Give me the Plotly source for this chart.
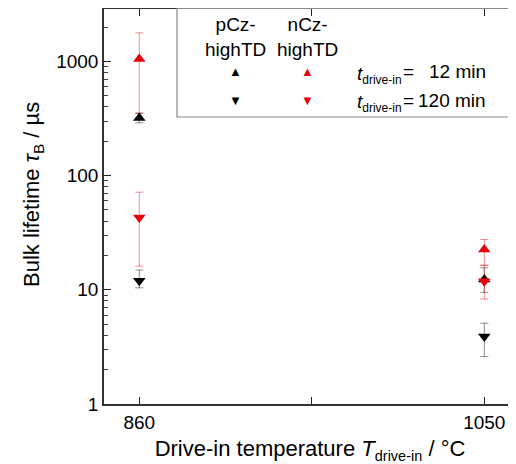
import plotly.graph_objects as go

# ---- data ----
temps = [860, 1050]
p_up = [320, 12.3]          # pCz-highTD, 12 min
p_up_hi = [350, 15.6]
p_up_lo = [290, 9.5]
n_up = [1050, 22.5]         # nCz-highTD, 12 min
n_up_hi = [1780, 27.6]
n_up_lo = [355, 16.4]
p_dn = [12.0, 3.9]          # pCz-highTD, 120 min
p_dn_hi = [14.9, 5.1]
p_dn_lo = [10.4, 2.6]
n_dn = [43.0, 11.9]         # nCz-highTD, 120 min
n_dn_hi = [71.6, 16.4]
n_dn_lo = [16.1, 8.3]

x_ticks = [860, 955, 1050]
x_ticktext = ["860", "", "1050"]
y_ticks = [1, 10, 100, 1000]
y_ticktext = ["1", "10", "100", "1000"]
y_minor = [m * 10 ** d for d in range(4) for m in range(2, 10)]

FONT = "Arial, Liberation Sans, sans-serif"
RED = "#e8000b"

def trace(y, hi, lo, symbol, color, ecolor):
    return go.Scatter(
        x=temps, y=y, mode="markers",
        marker=dict(symbol=symbol, size=11, color=color),
        error_y=dict(type="data", symmetric=False,
                     array=[h - v for h, v in zip(hi, y)],
                     arrayminus=[v - l for l, v in zip(lo, y)],
                     color=ecolor, thickness=1, width=4),
        showlegend=False)

fig = go.Figure()
fig.add_trace(trace(n_up, n_up_hi, n_up_lo, "triangle-up", RED, "rgba(232,0,11,0.45)"))
fig.add_trace(trace(p_up, p_up_hi, p_up_lo, "triangle-up", "black", "rgba(0,0,0,0.45)"))
fig.add_trace(trace(p_dn, p_dn_hi, p_dn_lo, "triangle-down", "black", "rgba(0,0,0,0.45)"))
fig.add_trace(trace(n_dn, n_dn_hi, n_dn_lo, "triangle-down", RED, "rgba(232,0,11,0.45)"))
# invisible trace for the right-hand tick axis
fig.add_trace(go.Scatter(x=[860], y=[10], yaxis="y2", mode="markers",
                         marker=dict(opacity=0), showlegend=False, hoverinfo="skip"))

OFF = 8  # page body margin
W, H = 516 - OFF, 464 - OFF
L, R, T, B = 96, 0, 1, 60
yr = [0, 3.459]

def px(sx):
    return (sx - OFF - L) / (W - L - R)

def py(sy):
    return (H - B - (sy - OFF)) / (H - T - B)

SUB = "<sub><span style='font-size:12px'>drive-in</span></sub>"
SUBX = "<sub><span style='font-size:14.5px'>drive-in</span></sub>"

tick_common = dict(ticks="inside", ticklen=7, tickwidth=1.2, tickcolor="#222",
                   showgrid=False, zeroline=False, automargin=False)
minor = dict(tickvals=y_minor, ticks="inside", ticklen=4, tickcolor="#444")

fig.update_layout(
    width=W, height=H,
    margin=dict(l=L, r=R, t=T, b=B, autoexpand=False),
    paper_bgcolor="white", plot_bgcolor="white",
    font=dict(family=FONT, size=19, color="black"),
    xaxis=dict(range=[840.56, 1067.46], tickvals=x_ticks, ticktext=x_ticktext,
               showline=True, linecolor="#333", linewidth=1.5, mirror="ticks",
               title=dict(text="Drive-in temperature <i>T</i>" + SUBX + " / °C",
                          font=dict(size=22), standoff=9),
               **tick_common),
    yaxis=dict(type="log", range=yr, tickvals=y_ticks, ticktext=y_ticktext,
               minor=minor, showline=True, linecolor="#333", linewidth=1.5,
               **tick_common),
    yaxis2=dict(type="log", range=yr, overlaying="y", side="right",
                tickvals=y_ticks, showticklabels=False, minor=minor,
                showline=False, **tick_common),
)

# legend box
fig.add_shape(type="rect", xref="paper", yref="paper",
              x0=px(177), x1=px(530), y0=py(117), y1=py(8.5),
              line=dict(color="#888", width=1.2), fillcolor="rgba(0,0,0,0)")

ann = []
ann.append(dict(x=px(33), y=py(195), text="Bulk lifetime <i>τ</i><sub>B</sub> / µs",
                textangle=-90, font=dict(size=22, color="black")))
ann.append(dict(x=px(235), y=py(37), text="pCz-<br>highTD"))
ann.append(dict(x=px(307), y=py(37), text="nCz-<br>highTD"))
ann.append(dict(x=px(235), y=py(72), text="▲", font=dict(size=13, color="black")))
ann.append(dict(x=px(307), y=py(72), text="▲", font=dict(size=13, color=RED)))
ann.append(dict(x=px(235), y=py(100), text="▼", font=dict(size=13, color="black")))
ann.append(dict(x=px(307), y=py(100), text="▼", font=dict(size=13, color=RED)))
ann.append(dict(x=px(355), y=py(75), text="<i>t</i>" + SUB, xanchor="left"))
ann.append(dict(x=px(355), y=py(103), text="<i>t</i>" + SUB, xanchor="left"))
ann.append(dict(x=px(408), y=py(72), text="="))
ann.append(dict(x=px(408), y=py(100), text="="))
ann.append(dict(x=px(488), y=py(72), text="12 min", xanchor="right"))
ann.append(dict(x=px(488), y=py(100), text="120 min", xanchor="right"))
for a in ann:
    a.setdefault("xanchor", "center")
    a.setdefault("font", dict(size=19, color="black"))
    fig.add_annotation(xref="paper", yref="paper", yanchor="middle", showarrow=False, **a)

fig.write_html("out.html")
